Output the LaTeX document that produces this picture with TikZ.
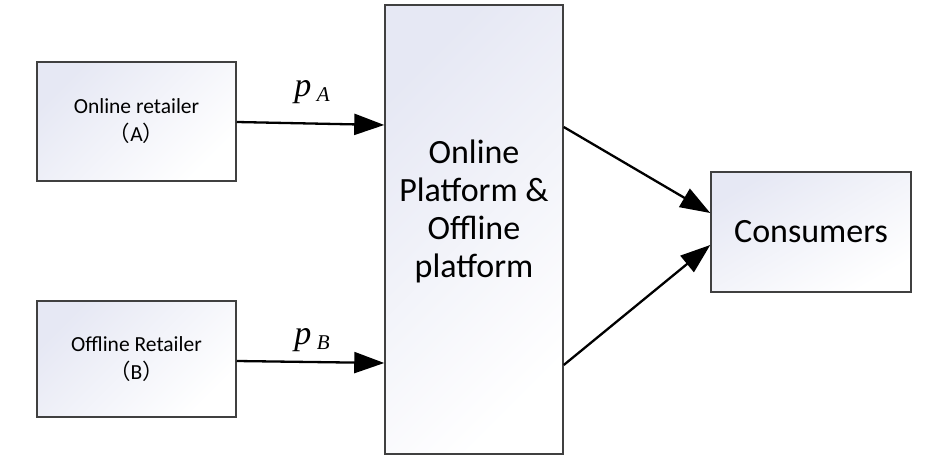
\documentclass[tikz,border=0pt]{standalone}
\usepackage{fontspec}
\setmainfont{Carlito}
\newfontfamily\cjk{Noto Sans CJK SC}
\newfontfamily\varserif{Liberation Serif}
\usetikzlibrary{arrows.meta}
\definecolor{boxc}{HTML}{E6E8F4}
\definecolor{edgec}{HTML}{404040}
\newcommand{\pvar}[1]{{\varserif\itshape\fontsize{34}{34}\selectfont p\,\raisebox{-5pt}{\fontsize{21}{21}\selectfont #1}}}
\tikzset{
  grbox/.style={draw=edgec, line width=1.5pt, top color=boxc, bottom color=white, shading angle=45, inner sep=0pt, align=center},
  conn/.style={line width=2.3pt, -{Triangle[length=30pt,width=21pt]}},
  smalltxt/.style={font=\fontsize{21.5}{28}\selectfont},
  bigtxt/.style={font=\fontsize{34}{38}\selectfont},
  lbl/.style={inner sep=0pt}
}
\begin{document}
\begin{tikzpicture}[x=1pt,y=-1pt]
\useasboundingbox (0,0) rectangle (934,471);
\node[grbox, smalltxt, minimum width=199pt, minimum height=119pt] (A) at (136.5,121.5) {Online retailer\\{\cjk （}A{\cjk ）}};
\node[grbox, smalltxt, minimum width=199pt, minimum height=116pt] (B) at (136.5,359) {Offline Retailer\\{\cjk （}B{\cjk ）}};
\node[grbox, minimum width=178pt, minimum height=449pt] (P) at (474,229.5) {};
\node[bigtxt, align=center] (PT) at (474,211) {Online\\Platform \&\\Offline\\platform};
\node[grbox, bigtxt, minimum width=200pt, minimum height=120pt, shading angle=30] (C) at (811,232) {Consumers};
\coordinate (a1) at (A.east |- 0,122);
\coordinate (p1) at (P.west |- 0,125);
\coordinate (b1) at (B.east |- 0,361);
\coordinate (p2) at (P.west |- 0,363);
\coordinate (p3) at (P.east |- 0,127);
\coordinate (p4) at (P.east |- 0,365);
\coordinate (c1) at (C.west |- 0,213);
\coordinate (c2) at (C.west |- 0,245);
\draw[conn] (a1) -- (p1);
\draw[conn] (b1) -- (p2);
\draw[conn] (p3) -- (c1);
\draw[conn] (p4) -- (c2);
\node[lbl] (la) at (312,92) {\pvar{A}};
\node[lbl] (lb) at (312,340) {\pvar{B}};
\end{tikzpicture}
\end{document}
